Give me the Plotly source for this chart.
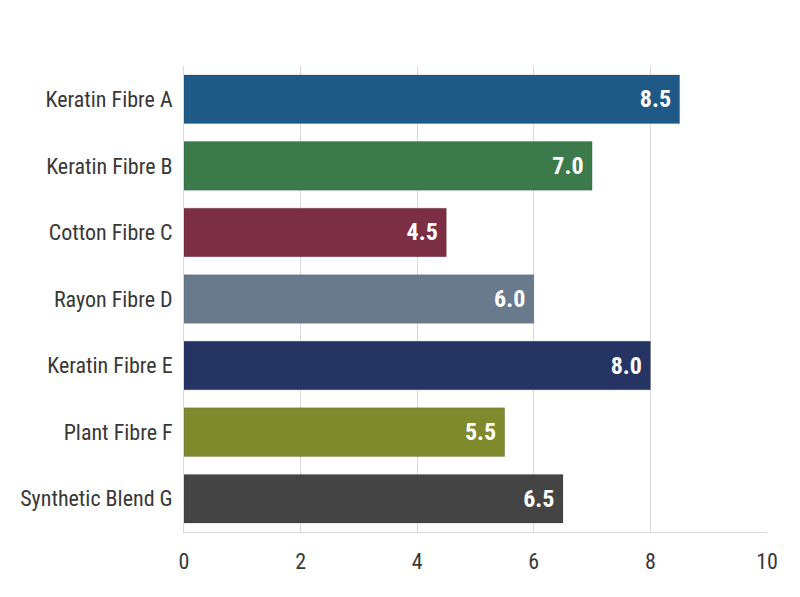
import plotly.graph_objects as go

categories = ["Keratin Fibre A", "Keratin Fibre B", "Cotton Fibre C", "Rayon Fibre D",
              "Keratin Fibre E", "Plant Fibre F", "Synthetic Blend G"]
values = [8.5, 7.0, 4.5, 6.0, 8.0, 5.5, 6.5]
colors = ["#1f5986", "#3d7a4b", "#7c2e45", "#697a8c", "#253463", "#7f8a2d", "#444444"]
x_ticks = [0, 2, 4, 6, 8, 10]

font_family = "Roboto Condensed, Liberation Sans Narrow, DejaVu Sans Condensed, Roboto, sans-serif"

fig = go.Figure(go.Bar(
    y=categories, x=values, orientation="h",
    marker=dict(color=colors, line=dict(color="rgba(0,0,0,0.15)", width=1)),
    text=[f"{v:.1f}&nbsp;" for v in values], textposition="inside", insidetextanchor="end",
    textfont=dict(color="white", size=24, family=font_family, weight="bold"),
    hoverinfo="skip",
))
fig.update_layout(
    width=800, height=597, margin=dict(l=184, r=33, t=66, b=65),
    plot_bgcolor="white", paper_bgcolor="white", bargap=0.27, showlegend=False,
    font=dict(family=font_family, color="#333333", size=18),
)
fig.update_xaxes(range=[0, 10], tickvals=x_ticks, showgrid=True, gridcolor="#d9d9d9",
                 zeroline=False, showline=True, linecolor="#d9d9d9", mirror=False,
                 ticks="", ticklabelstandoff=10,
                 tickfont=dict(size=22, color="#383838"))
fig.update_yaxes(autorange="reversed", showgrid=False, showline=True, linecolor="#d9d9d9",
                 ticks="", ticklabelstandoff=6,
                 tickfont=dict(size=22, color="#383838"))
fig.write_html("out.html")
